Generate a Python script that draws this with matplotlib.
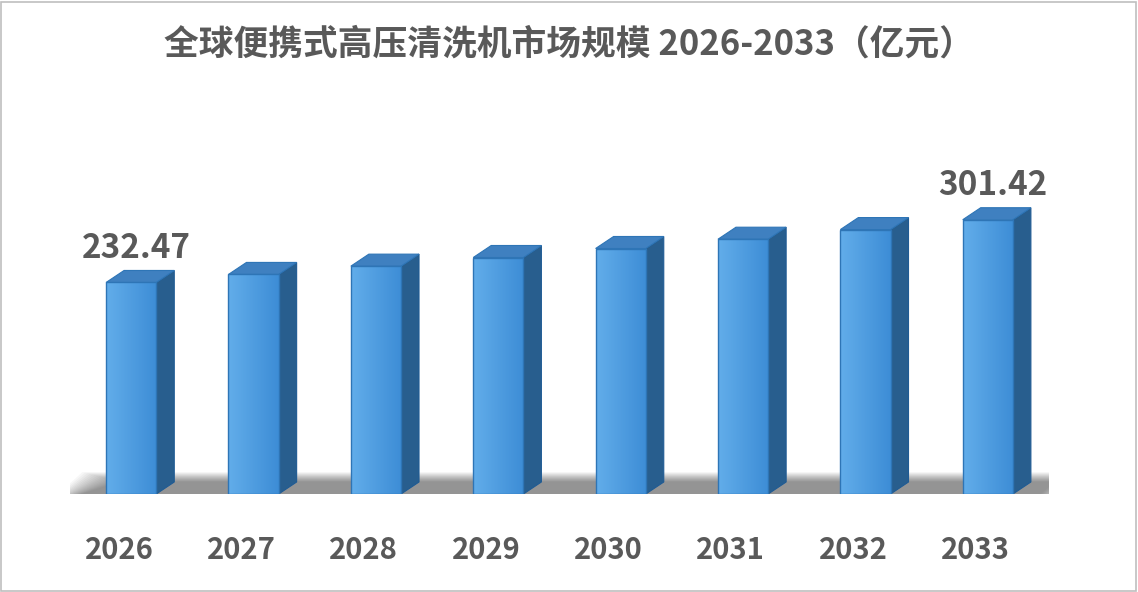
import numpy as np
import matplotlib
matplotlib.use("Agg")
import matplotlib.pyplot as plt
from matplotlib.patches import Polygon, Rectangle

plt.rcParams['font.family'] = ['Noto Sans CJK SC', 'DejaVu Sans']

years = ["2026", "2027", "2028", "2029", "2030", "2031", "2032", "2033"]
values = [232.47, 241.3, 250.4, 259.9, 269.8, 280.0, 290.6, 301.42]
shown = {0: "232.47", 7: "301.42"}

TXT = "#595959"
W = 0.41      # bar width in x units
DX = 0.147    # depth offset x
DY = 13.2     # depth offset y

fig = plt.figure(figsize=(11.38, 5.92), dpi=100)
fig.patches.append(Rectangle((0.001, 0.002), 0.997, 0.995, transform=fig.transFigure,
                             fill=False, ec="#BFBFBF", lw=1.2))
ax = fig.add_axes([70 / 1138, 98 / 592, 979 / 1138, 394 / 592])
ax.set_xlim(-0.5, 7.5)
ax.set_ylim(0, 433)
ax.axis("off")

# soft floor shadow
for i in range(16):
    grow = i * 0.7
    ax.add_patch(Polygon([(-0.62 + i * 0.012, -3 + grow * 0.15), (7.6 - i * 0.012, -3 + grow * 0.15),
                          (7.85 - i * 0.02, 24 - grow), (-0.4 + i * 0.02, 24 - grow)],
                         closed=True, fc="black", ec="none", alpha=0.03, zorder=1))

grad = np.linspace(0, 1, 64).reshape(1, -1)
cmap = matplotlib.colors.LinearSegmentedColormap.from_list("b", ["#62ADEA", "#3D8DD6"])
for i, v in enumerate(values):
    x0 = i - W / 2
    x1 = i + W / 2
    # side face
    ax.add_patch(Polygon([(x1, 0), (x1 + DX, DY), (x1 + DX, v + DY), (x1, v)],
                         closed=True, fc="#285E8E", ec="#1F5B94", lw=0.8, zorder=3))
    # top face
    ax.add_patch(Polygon([(x0, v), (x1, v), (x1 + DX, v + DY), (x0 + DX, v + DY)],
                         closed=True, fc="#3F80C0", ec="#2E75B6", lw=0.8, zorder=3))
    # front face with gradient
    front = Rectangle((x0, 0), W, v, fc="none", ec="#2E75B6", lw=1.0, zorder=5)
    ax.add_patch(front)
    im = ax.imshow(grad, cmap=cmap, extent=(x0, x1, 0, v), aspect="auto", zorder=4)
    im.set_clip_path(front)
    if i in shown:
        ax.text(i + 0.04, v + DY + 6, shown[i], ha="center", va="bottom", fontsize=24,
                fontweight="bold", color=TXT)
    ax.text(i - 0.1, -62, years[i], ha="center", va="center", fontsize=21,
            fontweight="bold", color=TXT, clip_on=False)

fig.text(0.5, 0.925, "全球便携式高压清洗机市场规模 2026-2033（亿元）", ha="center",
         va="center", fontsize=25, fontweight="bold", color=TXT)

fig.savefig("out.png", dpi=100)
